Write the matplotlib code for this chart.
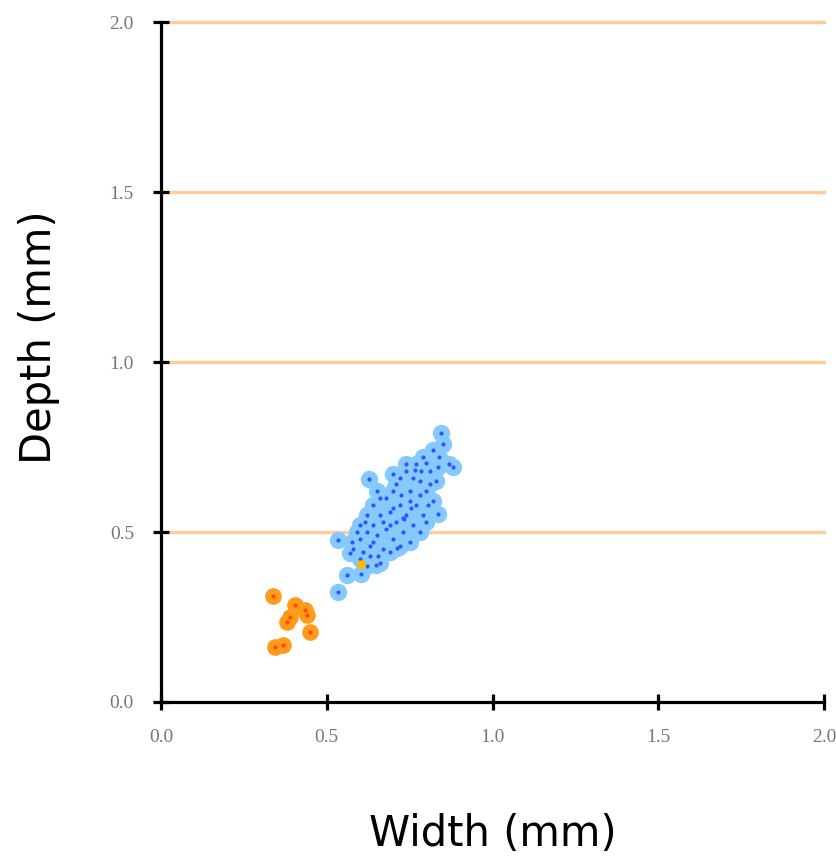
import matplotlib.pyplot as plt

# blue group (width, depth in mm)
blue_w = [0.535, 0.562, 0.604, 0.571, 0.535, 0.647, 0.63,
          0.58, 0.60, 0.61, 0.62, 0.63, 0.64, 0.62, 0.65, 0.66, 0.64, 0.67, 0.68,
          0.66, 0.69, 0.70, 0.70, 0.71, 0.72, 0.73, 0.72, 0.74, 0.75, 0.76, 0.74,
          0.77, 0.78, 0.79, 0.77, 0.80, 0.81, 0.82, 0.79, 0.83, 0.84, 0.85, 0.845,
          0.87, 0.88, 0.82, 0.834, 0.628, 0.65, 0.70, 0.74, 0.69, 0.72, 0.75, 0.78,
          0.80, 0.66, 0.62, 0.60, 0.68, 0.71, 0.76, 0.73, 0.70, 0.67, 0.75, 0.78,
          0.81, 0.64, 0.713, 0.734, 0.767, 0.798, 0.834, 0.59, 0.615, 0.655, 0.69,
          0.725, 0.755, 0.785, 0.805, 0.575, 0.60]
blue_d = [0.324, 0.374, 0.376, 0.438, 0.476, 0.403, 0.43,
          0.45, 0.48, 0.44, 0.50, 0.46, 0.52, 0.55, 0.49, 0.55, 0.58, 0.45, 0.51,
          0.60, 0.56, 0.48, 0.62, 0.53, 0.58, 0.50, 0.66, 0.55, 0.62, 0.52, 0.68,
          0.58, 0.65, 0.55, 0.70, 0.62, 0.68, 0.59, 0.72, 0.65, 0.72, 0.76, 0.79,
          0.70, 0.69, 0.74, 0.553, 0.656, 0.62, 0.67, 0.70, 0.44, 0.46, 0.47, 0.50,
          0.53, 0.41, 0.40, 0.52, 0.60, 0.64, 0.66, 0.54, 0.57, 0.53, 0.59, 0.61,
          0.64, 0.47, 0.453, 0.538, 0.682, 0.703, 0.691, 0.50, 0.53, 0.43, 0.52,
          0.61, 0.57, 0.68, 0.58, 0.47, 0.42]

# orange group
orange_w = [0.338, 0.405, 0.435, 0.441, 0.381, 0.450, 0.369, 0.344, 0.39]
orange_d = [0.312, 0.285, 0.27, 0.256, 0.235, 0.206, 0.168, 0.162, 0.25]

# single odd point inside the blue group
odd_w = [0.604]
odd_d = [0.406]

ticks = [0.0, 0.5, 1.0, 1.5, 2.0]
tick_labels = ["0.0", "0.5", "1.0", "1.5", "2.0"]

fig = plt.figure(figsize=(8.37, 8.64), dpi=100)
ax = fig.add_axes([0.1924, 0.1875, 0.7921, 0.787])

ax.plot(blue_w, blue_d, 'o', ms=12.5, color='#86C9FF', mec='none', zorder=3)
ax.plot(blue_w, blue_d, 'o', ms=3, color='#2F55FF', mec='none', zorder=4)
ax.plot(orange_w, orange_d, 'o', ms=12, color='#FF9A1A', mec='none', zorder=3)
ax.plot(orange_w, orange_d, 'o', ms=3, color='#FF4A00', mec='none', zorder=4)
ax.plot(odd_w, odd_d, 's', ms=6, color='#FFB800', mec='none', zorder=5)

ax.set_xlim(0, 2.0)
ax.set_ylim(0, 2.0)
ax.set_xticks(ticks)
ax.set_yticks(ticks)
ax.set_xticklabels(tick_labels, family='Liberation Serif', fontsize=14, color='#777777')
ax.set_yticklabels(tick_labels, family='Liberation Serif', fontsize=14, color='#777777')

for v in ticks[1:]:
    ax.axhline(v, color='#FFCC99', lw=2.4, zorder=1, clip_on=False)

for s in ['top', 'right']:
    ax.spines[s].set_visible(False)
for s in ['left', 'bottom']:
    ax.spines[s].set_linewidth(2.3)
ax.tick_params(direction='inout', length=11, width=2.3, pad=14)

ax.set_xlabel('Width (mm)', fontsize=30, labelpad=48)
ax.set_ylabel('Depth (mm)', fontsize=30)
ax.yaxis.set_label_coords(-0.152, 0.537)

plt.savefig("out.png")
